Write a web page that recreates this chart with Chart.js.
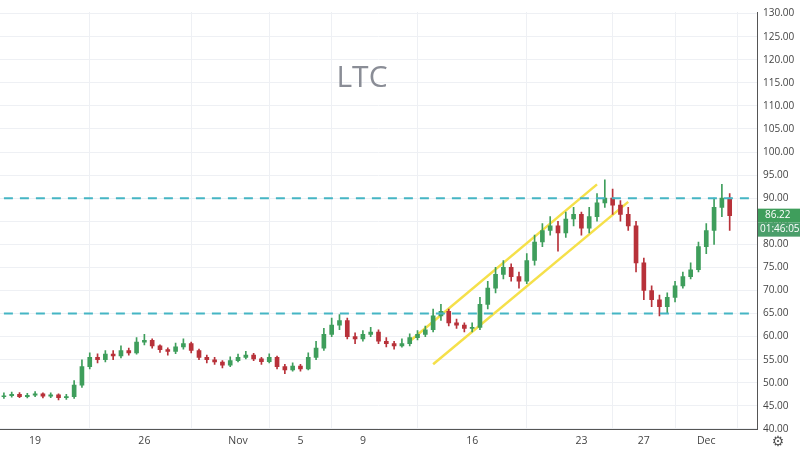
<!DOCTYPE html>
<html><head><meta charset="utf-8">
<script src="https://cdn.jsdelivr.net/npm/chart.js@4"></script>
<style>html,body{margin:0;padding:0;background:#fff}#w{width:800px;height:452px}</style>
</head><body><div id="w"><canvas id="c"></canvas></div>
<script>
const closes=[47.2,47.5,47.0,47.3,47.6,47.1,47.4,46.8,47.0,49.5,53.5,55.5,55.0,56.2,55.8,57.0,56.5,58.8,59.2,58.0,57.2,56.8,57.8,58.5,57.0,55.5,55.0,54.5,53.8,54.8,55.5,56.0,55.2,54.6,55.5,53.5,52.8,53.6,53.0,55.5,57.5,60.5,62.5,63.5,60.0,59.5,60.5,61.0,59.0,58.5,58.0,58.5,59.8,60.5,61.5,64.5,65.5,63.0,62.5,61.8,62.0,67.0,70.5,73.5,75.0,73.0,72.0,76.5,80.5,83.0,84.0,82.5,85.5,86.5,83.5,86.0,89.0,90.0,88.5,86.5,84.0,76.0,70.0,68.0,66.5,68.5,71.0,73.0,74.5,79.5,83.0,88.0,90.0,86.22];
const opens=[47.0,47.2,47.5,47.0,47.3,47.6,47.1,47.4,46.8,47.0,49.5,53.5,55.5,55.0,56.2,55.8,57.0,56.5,58.8,59.2,58.0,57.2,56.8,57.8,58.5,57.0,55.5,55.0,54.5,53.8,54.8,55.5,56.0,55.2,54.6,55.5,53.5,52.8,53.6,53.0,55.5,57.5,60.5,62.5,63.5,60.0,59.5,60.5,61.0,59.0,58.5,58.0,58.5,59.8,60.5,61.5,64.5,65.5,63.0,62.5,61.8,62.0,67.0,70.5,73.5,75.0,73.0,72.0,76.5,80.5,83.0,84.0,82.5,85.5,86.5,83.5,86.0,89.0,90.0,88.5,86.5,84.0,76.0,70.0,68.0,66.5,68.5,71.0,73.0,74.5,79.5,83.0,88.0,90.0];
const highs=[47.8,48.0,47.9,47.7,48.1,47.8,47.8,47.6,47.5,50.5,55.0,56.5,56.3,57.0,57.0,58.0,57.5,59.8,60.5,59.5,58.2,57.6,58.6,59.5,58.8,57.3,56.0,55.5,54.8,55.6,56.2,56.8,56.4,55.5,56.3,55.8,54.0,54.3,54.0,56.5,59.0,61.8,64.0,64.8,64.0,60.8,61.3,62.0,61.5,59.8,59.0,59.5,60.6,61.3,62.3,66.0,67.0,66.0,63.8,63.0,63.0,68.5,72.0,75.0,76.5,75.8,74.0,78.0,82.0,84.5,86.0,85.0,87.0,88.0,87.0,88.0,91.0,94.0,92.0,89.5,88.0,85.0,77.0,71.0,69.0,69.5,72.0,74.0,76.0,80.5,84.5,90.0,93.0,91.0];
const lows=[46.6,46.9,46.8,46.7,47.0,46.7,46.8,46.3,46.4,46.6,49.0,53.0,54.3,54.5,55.0,55.4,56.0,56.2,58.2,57.5,56.6,56.0,56.3,57.3,56.5,55.0,54.3,54.0,53.2,53.5,54.5,55.2,54.8,54.0,54.3,53.0,52.0,52.5,52.5,52.8,55.0,57.0,60.0,61.5,59.5,58.5,59.0,60.0,58.5,57.8,57.3,57.7,58.0,59.3,60.0,61.0,63.5,62.3,61.8,61.0,61.0,61.5,66.0,69.5,72.5,72.0,70.5,71.5,75.5,79.5,82.0,78.5,81.5,84.0,82.0,82.5,85.0,88.0,86.5,85.0,83.0,74.0,68.0,66.5,64.5,65.0,67.5,70.5,72.5,74.0,78.0,80.0,86.0,83.0];
const upperChannel={from:52,to:76,y0:59.0,y1:93.0};
const lowerChannel={from:55,to:80,y0:54.0,y1:89.2};
const levels=[90,65];
const lastPrice=86.22, countdown="01:46:05";
const xTicks={4:"19",18:"26",30:"Nov",38:"5",46:"9",60:"16",74:"23",82:"27",90:"Dec"};
const nCat=97;
const start=new Date(2018,9,17);
const labels=[];for(let i=0;i<nCat;i++){const d=new Date(start.getTime()+i*43200000);labels.push(d.toISOString());}
const bodies=[],wicks=[],cols=[];
for(let i=0;i<nCat;i++){
 if(i<closes.length){let o=opens[i],c=closes[i];if(Math.abs(o-c)<0.15)c=o+0.15;bodies.push([o,c]);wicks.push([lows[i],highs[i]]);cols.push(closes[i]>=opens[i]?'#3f9e5c':'#b8323a');}
 else{bodies.push(null);wicks.push(null);cols.push('#000');}
}
function chan(ch){const a=new Array(nCat).fill(null);a[ch.from]=ch.y0;a[ch.to]=ch.y1;return a;}
function lvl(v){return new Array(nCat).fill(v);}
const overlay={id:'ov',afterDraw(ch){const ctx=ch.ctx,a=ch.chartArea,y=ch.scales.y;
 ctx.save();ctx.fillStyle='#8a8d96';ctx.font='30px "Open Sans", sans-serif';ctx.textAlign='center';ctx.textBaseline='middle';ctx.fillText('LTC',362,78);
 const py=y.getPixelForValue(lastPrice);ctx.font='10px "Open Sans", sans-serif';ctx.textAlign='left';
 ctx.fillStyle='#3f9e5c';ctx.fillRect(a.right+1,py-7,42,14);ctx.fillStyle='#fff';ctx.fillText(lastPrice.toFixed(2),a.right+8,py);
 ctx.fillStyle='#4a9e6a';ctx.fillRect(a.right+1,py+7,43,14);ctx.fillStyle='#fff';ctx.fillText(countdown,a.right+3,py+14);
 ctx.fillStyle='#555';ctx.font='14px "DejaVu Sans"';ctx.textAlign='center';ctx.fillText('⚙',778,442);
 ctx.restore();}};
new Chart(document.getElementById('c'),{
 data:{labels,datasets:[
  {type:'line',data:lvl(levels[0]),borderColor:'#45b5c4',borderWidth:2,borderDash:[9,7],pointRadius:0},
  {type:'line',data:lvl(levels[1]),borderColor:'#45b5c4',borderWidth:2,borderDash:[9,7],pointRadius:0},
  {type:'bar',data:wicks,backgroundColor:cols,barThickness:1,grouped:false},
  {type:'bar',data:bodies,backgroundColor:cols,barThickness:4,grouped:false},
  {type:'line',data:chan(upperChannel),borderColor:'#f5e04a',borderWidth:2.5,pointRadius:0,spanGaps:true},
  {type:'line',data:chan(lowerChannel),borderColor:'#f5e04a',borderWidth:2.5,pointRadius:0,spanGaps:true}
 ]},
 options:{responsive:true,maintainAspectRatio:false,animation:false,layout:{padding:0},
  plugins:{legend:{display:false},tooltip:{enabled:false}},
  scales:{
   x:{type:'category',offset:true,grid:{color:'#eef0f4',drawTicks:false},border:{color:'#555'},
    afterBuildTicks(s){s.ticks=Object.keys(xTicks).map(k=>({value:+k}));},
    ticks:{autoSkip:false,maxRotation:0,padding:5,color:'#444',font:{size:10.5,family:'"Open Sans", sans-serif'},callback:(v)=>xTicks[v]}},
   y:{position:'right',min:39.9,max:130.35,grid:{color:'#eef0f4',drawTicks:false},border:{color:'#555'},
    afterBuildTicks(s){const t=[];for(let v=40;v<=130;v+=5)t.push({value:v});s.ticks=t;},
    afterFit(s){s.width=43;},
    ticks:{padding:6,color:'#444',font:{size:10,family:'"Open Sans", sans-serif'},callback:v=>v.toFixed(2)}}
  }},
 plugins:[overlay]});
</script></body></html>
